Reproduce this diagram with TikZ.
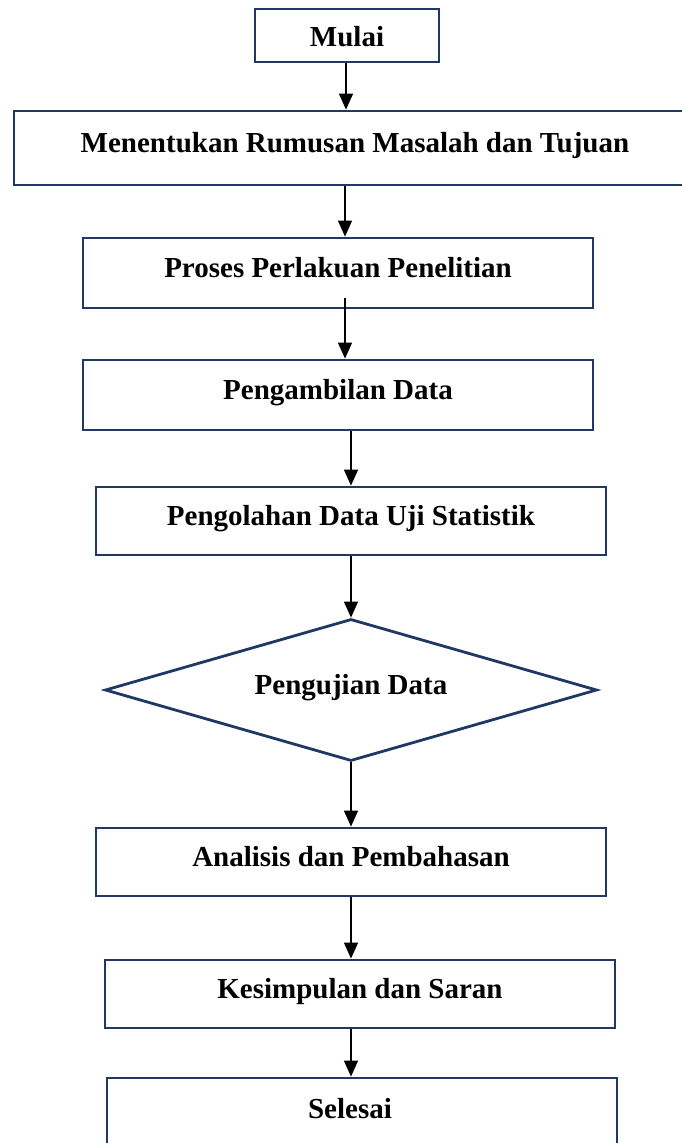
\documentclass[tikz,border=0pt]{standalone}
\usepackage{fontspec}
\setmainfont{Liberation Serif}
\usetikzlibrary{shapes.geometric,arrows.meta}
\definecolor{navy}{RGB}{31,56,100}
\begin{document}
\begin{tikzpicture}[x=1pt,y=-1pt,
  box/.style={draw=navy,line width=2.8pt,rectangle,inner sep=0pt,
    font=\fontsize{29}{32}\selectfont\bfseries,text height=20pt,text depth=11pt},
  dia/.style={draw=navy,line width=2.8pt,diamond,aspect=3.46,inner sep=0pt,
    minimum width=492pt,minimum height=142pt,
    font=\fontsize{29}{32}\selectfont\bfseries,text height=20pt,text depth=11pt},
  arr/.style={draw=black,line width=1.3pt,-{Triangle[length=16pt,width=14pt]}}]
\useasboundingbox (0,0) rectangle (681,1143);
\node[box,minimum width=184pt,minimum height=53pt,text height=26pt,text depth=4pt] (b1) at (347,35.5) {Mulai};
\node[box,minimum width=682pt,minimum height=74pt] (b2) at (355,148) {Menentukan Rumusan Masalah dan Tujuan};
\node[box,minimum width=510pt,minimum height=70pt] (b3) at (338,273) {Proses Perlakuan Penelitian};
\node[box,minimum width=510pt,minimum height=70pt] (b4) at (338,395) {Pengambilan Data};
\node[box,minimum width=510pt,minimum height=68pt] (b5) at (351,521) {Pengolahan Data Uji Statistik};
\node[dia] (d1) at (351,690) {Pengujian Data};
\node[box,minimum width=510pt,minimum height=68pt] (b6) at (351,862) {Analisis dan Pembahasan};
\node[box,minimum width=510pt,minimum height=68pt] (b7) at (360,994) {Kesimpulan dan Saran};
\node[box,minimum width=510pt,minimum height=72pt] (b8) at (362,1114) {Selesai\hspace*{24pt}};
\coordinate (xa) at (346,0);
\coordinate (xb) at (345,0);
\coordinate (xc) at (351,0);
\coordinate (s3) at ([yshift=11pt]b3.south);
\draw[arr] (b1.south -| xa) -- (b2.north -| xa);
\draw[arr] (b2.south -| xb) -- (b3.north -| xb);
\draw[arr] (s3 -| xb) -- (b4.north -| xb);
\draw[arr] (b4.south -| xc) -- (b5.north -| xc);
\draw[arr] (b5.south -| xc) -- (d1.north);
\draw[arr] (d1.south) -- (b6.north -| xc);
\draw[arr] (b6.south -| xc) -- (b7.north -| xc);
\draw[arr] (b7.south -| xc) -- (b8.north -| xc);
\end{tikzpicture}
\end{document}
